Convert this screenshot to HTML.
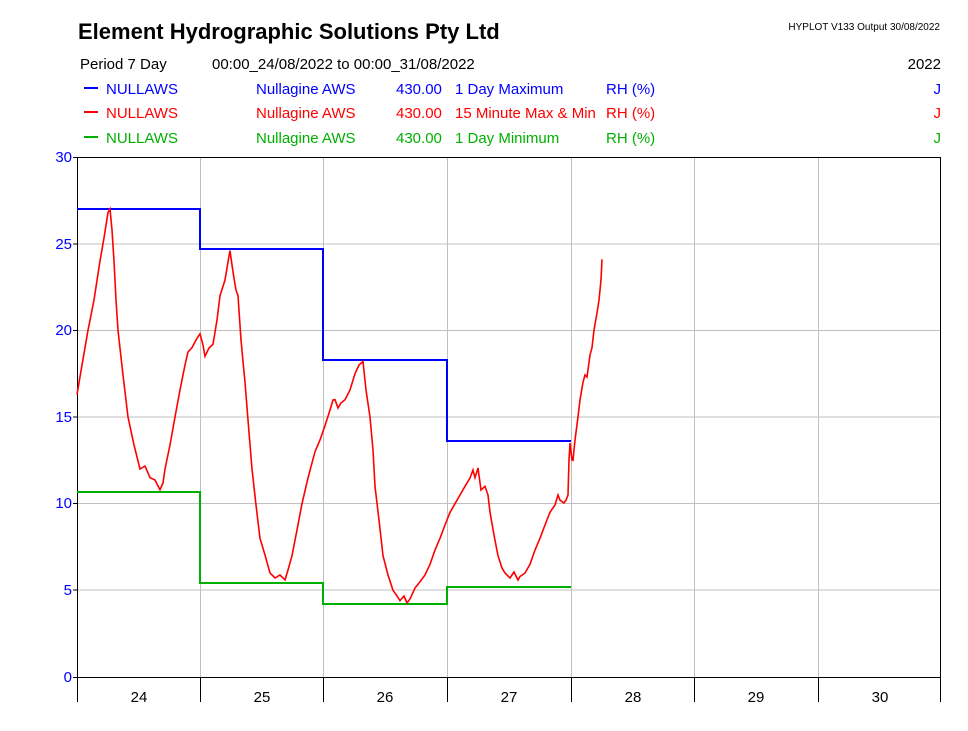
<!DOCTYPE html>
<html><head><meta charset="utf-8"><style>
body{margin:0;background:#fff;width:968px;height:726px;overflow:hidden;font-family:"Liberation Sans",Arial,sans-serif}
</style></head><body>
<svg width="968" height="726" xmlns="http://www.w3.org/2000/svg" font-family="Liberation Sans, Arial, sans-serif">
<text x="78" y="39" font-size="22" font-weight="bold">Element Hydrographic Solutions Pty Ltd</text>
<text x="940" y="30" font-size="10" text-anchor="end">HYPLOT V133  Output 30/08/2022</text>
<g font-size="15">
<text x="80" y="69">Period  7 Day</text>
<text x="212" y="69">00:00_24/08/2022 to 00:00_31/08/2022</text>
<text x="941" y="69" text-anchor="end">2022</text>
<g fill="#0000ff"><line x1="84" y1="88" x2="98" y2="88" stroke="#0000ff" stroke-width="2"/>
<text x="106" y="94">NULLAWS</text><text x="256" y="94">Nullagine AWS</text><text x="396" y="94">430.00</text><text x="455" y="94">1 Day Maximum</text><text x="606" y="94">RH (%)</text><text x="941" y="94" text-anchor="end">J</text></g>
<g fill="#ff0000"><line x1="84" y1="112" x2="98" y2="112" stroke="#ff0000" stroke-width="2"/>
<text x="106" y="118">NULLAWS</text><text x="256" y="118">Nullagine AWS</text><text x="396" y="118">430.00</text><text x="455" y="118">15 Minute Max &amp; Min</text><text x="606" y="118">RH (%)</text><text x="941" y="118" text-anchor="end">J</text></g>
<g fill="#00b000"><line x1="84" y1="137" x2="98" y2="137" stroke="#00b000" stroke-width="2"/>
<text x="106" y="143">NULLAWS</text><text x="256" y="143">Nullagine AWS</text><text x="396" y="143">430.00</text><text x="455" y="143">1 Day Minimum</text><text x="606" y="143">RH (%)</text><text x="941" y="143" text-anchor="end">J</text></g>
</g>
<g stroke="#c0c0c0" stroke-width="1">
<line x1="77" y1="244" x2="941" y2="244"/><line x1="77" y1="330.5" x2="941" y2="330.5"/><line x1="77" y1="417" x2="941" y2="417"/><line x1="77" y1="503.5" x2="941" y2="503.5"/><line x1="77" y1="590" x2="941" y2="590"/>
<line x1="200.5" y1="157" x2="200.5" y2="677"/><line x1="323.5" y1="157" x2="323.5" y2="677"/><line x1="447.5" y1="157" x2="447.5" y2="677"/><line x1="571.5" y1="157" x2="571.5" y2="677"/><line x1="694.5" y1="157" x2="694.5" y2="677"/><line x1="818.5" y1="157" x2="818.5" y2="677"/>
</g>
<g stroke="#000" stroke-width="1" fill="none">
<rect x="77.5" y="157.5" width="863" height="520"/>
<line x1="73" y1="157.5" x2="77" y2="157.5"/><line x1="73" y1="244" x2="77" y2="244"/><line x1="73" y1="330.5" x2="77" y2="330.5"/><line x1="73" y1="417" x2="77" y2="417"/><line x1="73" y1="503.5" x2="77" y2="503.5"/><line x1="73" y1="590" x2="77" y2="590"/><line x1="73" y1="677.5" x2="77" y2="677.5"/>
<line x1="77.5" y1="677" x2="77.5" y2="702"/><line x1="200.5" y1="677" x2="200.5" y2="702"/><line x1="323.5" y1="677" x2="323.5" y2="702"/><line x1="447.5" y1="677" x2="447.5" y2="702"/><line x1="571.5" y1="677" x2="571.5" y2="702"/><line x1="694.5" y1="677" x2="694.5" y2="702"/><line x1="818.5" y1="677" x2="818.5" y2="702"/><line x1="940.5" y1="677" x2="940.5" y2="702"/>
</g>
<g font-size="15" fill="#0000ff" text-anchor="end">
<text x="72" y="162">30</text><text x="72" y="249">25</text><text x="72" y="335">20</text><text x="72" y="422">15</text><text x="72" y="508">10</text><text x="72" y="595">5</text><text x="72" y="682">0</text>
</g>
<g font-size="15" text-anchor="middle">
<text x="139" y="702">24</text><text x="262" y="702">25</text><text x="385" y="702">26</text><text x="509" y="702">27</text><text x="633" y="702">28</text><text x="756" y="702">29</text><text x="880" y="702">30</text>
</g>
<polyline fill="none" stroke="#0000ff" stroke-width="2" points="77,209 200,209 200,249 323,249 323,360 447,360 447,441 571,441"/>
<polyline fill="none" stroke="#00b000" stroke-width="2" points="77,492 200,492 200,583 323,583 323,604 447,604 447,587 571,587"/>
<polyline fill="none" stroke="#ff0000" stroke-width="1.6" points="77,394.5 82,365 88,330.3 94,300 100,261 104,238 108,212.5 110,209 112,230 114,261 116,300 118,330.3 123,375 128,417 134,445 140,469 145,466 150,477.7 155,480 158,486 160,489.8 163,483 165,469 170,445 175,417 180,390 185,365 188,352 192,347.7 196,340 200,333.8 203,345 205,356.3 209,348 213,344.2 217,320 220,295.7 225,280 228,262 230,250.6 232,265 234,278.3 236,290 238,295.7 241,340 245,382.3 248,420 252,469 256,505 260,538.3 265,555 270,573 275,578 280,575 285,579.9 288,570 292,555.7 297,530 302,503.7 308,478 315,451.7 320,440 325,425.7 330,410 333,400 335,399.7 338,408 341,403 345,399.7 350,390 355,373.7 359,365 363,361.5 366,390 370,417 373,450 375,486.3 379,520 383,555.7 388,575 393,590.3 397,596 400,600.7 404,596 407,603 410,599 415,588 420,581.7 425,575 430,564.3 435,550 440,538.3 445,525 450,512.3 455,503.7 460,495 465,486.3 470,478 473,470 475,477.7 478,468 481,490 485,486.3 488,495 490,512.3 494,535 498,555.7 502,568 505,573 510,578 514,572 518,580 520,576.5 525,573 530,564.3 535,550 540,538.3 545,525 550,512.3 555,505 558,495 560,500.2 564,503 566,500.2 568,495 569,460 570,443 572,460 573,460.3 575,440 578,417 580,400 583,382.3 585,375 587,377.1 590,355 592,347.7 594,330 597,313 599,300 601,280 602,259.3"/>
</svg>
</body></html>
